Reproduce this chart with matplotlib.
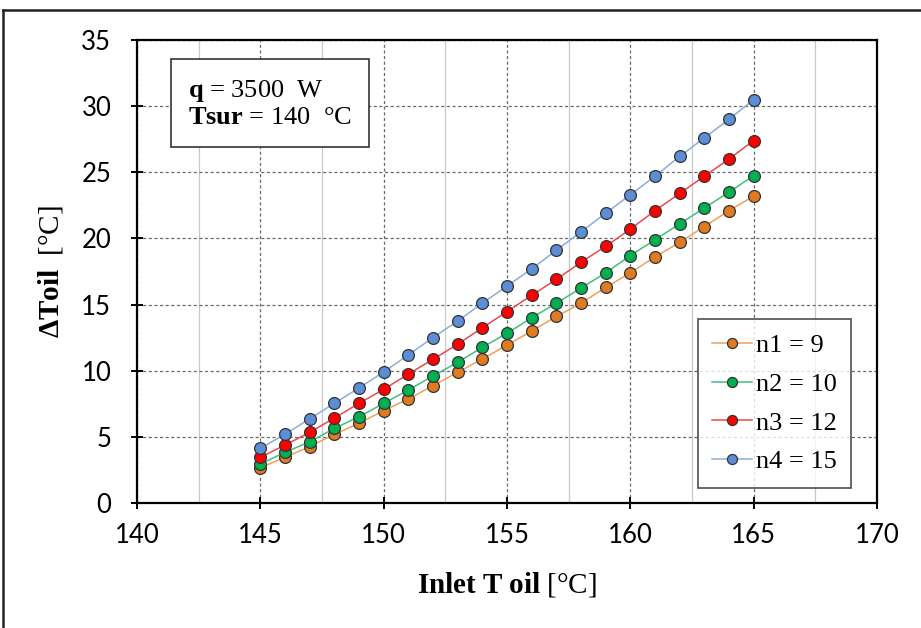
import matplotlib
matplotlib.use("Agg")
import matplotlib.pyplot as plt
from matplotlib.lines import Line2D
from matplotlib.ticker import MultipleLocator

plt.rcParams['mathtext.fontset'] = 'custom'
plt.rcParams['mathtext.rm'] = 'Liberation Serif'
plt.rcParams['mathtext.bf'] = 'Liberation Serif:bold'
plt.rcParams['mathtext.it'] = 'Liberation Serif:italic'

inlet_T = list(range(145, 166))
n1 = [2.67, 3.45, 4.26, 5.19, 6.02, 6.98, 7.86, 8.87, 9.88, 10.88, 11.94,
      13.0, 14.1, 15.1, 16.3, 17.4, 18.6, 19.7, 20.9, 22.1, 23.2]
n2 = [2.95, 3.83, 4.63, 5.64, 6.52, 7.53, 8.54, 9.6, 10.63, 11.77, 12.83,
      14.0, 15.1, 16.25, 17.4, 18.7, 19.9, 21.1, 22.3, 23.5, 24.75]
n3 = [3.45, 4.38, 5.34, 6.42, 7.53, 8.59, 9.75, 10.86, 12.0, 13.25, 14.46,
      15.7, 16.9, 18.2, 19.4, 20.7, 22.1, 23.4, 24.7, 26.0, 27.4]
n4 = [4.13, 5.2, 6.37, 7.53, 8.7, 9.9, 11.2, 12.5, 13.76, 15.1, 16.4,
      17.7, 19.1, 20.5, 21.9, 23.3, 24.7, 26.2, 27.6, 29.0, 30.5]
series_labels = ["n1 = 9", "n2 = 10", "n3 = 12", "n4 = 15"]
marker_colors = ["#E07B22", "#00B050", "#FF0000", "#5B8ED6"]
line_colors = ["#F0A05A", "#40C07A", "#F04848", "#8AAEDC"]

W, H = 921, 628
fig = plt.figure(figsize=(W / 100, H / 100), dpi=100)
ax = fig.add_axes([137 / W, 1 - 503 / H, (877 - 137) / W, (503 - 40) / H])

for ys, lab, mc, lc in zip([n1, n2, n3, n4], series_labels, marker_colors, line_colors):
    ax.plot(inlet_T, ys, color=lc, lw=1.1, marker='o', ms=8.5,
            markerfacecolor=mc, markeredgecolor='#333333', markeredgewidth=0.9,
            label=lab, zorder=3)

ax.set_xlim(140, 170)
ax.set_ylim(0, 35)
ax.xaxis.set_major_locator(MultipleLocator(5))
ax.xaxis.set_minor_locator(MultipleLocator(2.5))
ax.yaxis.set_major_locator(MultipleLocator(5))

ax.grid(True, which='major', axis='both', color='#6a6a6a', ls=(0, (2.5, 2)), lw=0.9)
ax.grid(True, which='minor', axis='x', color='#c8c8c8', ls='-', lw=0.9)
ax.set_axisbelow(True)

for s in ax.spines.values():
    s.set_color('black')
    s.set_linewidth(1.6)

ax.tick_params(axis='both', which='major', direction='inout', length=9, width=1.4,
               labelsize=18.5, colors='black')
ax.tick_params(axis='x', which='major', pad=10)
ax.tick_params(axis='y', which='major', pad=14)
ax.tick_params(axis='both', which='minor', length=0)
for lbl in ax.get_xticklabels() + ax.get_yticklabels():
    lbl.set_fontfamily(['Lato', 'DejaVu Sans'])

ax.set_xlabel(r'$\mathbf{Inlet\ T\ oil}\ [\mathrm{°C}]$', fontsize=21, labelpad=16)
ax.set_ylabel(r'$\mathbf{\Delta Toil}\ \ [\mathrm{°C}]$', fontsize=21, labelpad=12)

ax.text((188 - 137) / 740, (503 - 78) / 463,
        r'$\mathbf{q}$ = 3500  W' + '\n' + r'$\mathbf{Tsur}$ = 140  °C',
        transform=ax.transAxes, fontsize=19, family='Liberation Serif',
        va='top', ha='left', linespacing=1.2,
        bbox=dict(boxstyle='square,pad=0.65', fc='white', ec='#333333', lw=1.2))

leg = ax.legend(loc='lower right', bbox_to_anchor=((851 - 137) / 740, (503 - 488) / 463),
                prop=dict(family='Liberation Serif', size=19),
                frameon=True, fancybox=False, edgecolor='#222222',
                handlelength=1.5, handletextpad=0.15, labelspacing=0.58,
                borderpad=0.55, markerscale=0.85, borderaxespad=0)
leg.get_frame().set_linewidth(1.2)

# outer frame (top and left edges)
fig.add_artist(Line2D([3 / W, 1.0], [1 - 10 / H, 1 - 10 / H], transform=fig.transFigure,
                      color='#222222', lw=1.8))
fig.add_artist(Line2D([3 / W, 3 / W], [0.0, 1 - 10 / H], transform=fig.transFigure,
                      color='#222222', lw=1.8))

fig.savefig('out.png', dpi=100)
